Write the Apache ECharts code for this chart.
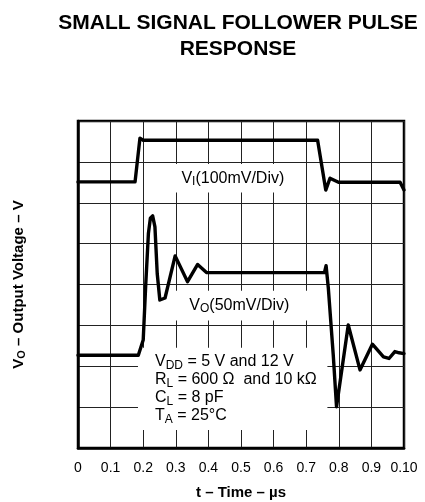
<!DOCTYPE html>
<html>
<head>
<meta charset="utf-8">
<script src="https://cdn.jsdelivr.net/npm/echarts@6/dist/echarts.min.js"></script>
<style>
  html, body { margin: 0; padding: 0; background: #fff; }
  #chart { width: 425px; height: 502px; }
</style>
</head>
<body>
<div id="chart"></div>
<script>
// time axis ticks (µs) — last label printed as "0.10" in the original sheet
const xTickLabels = ["0", "0.1", "0.2", "0.3", "0.4", "0.5", "0.6", "0.7", "0.8", "0.9", "0.10"];

// input pulse V_I, in screen divisions (0 = bottom, 8 = top)
const viTime = [0, 0.175, 0.19, 0.2, 0.735, 0.74, 0.760, 0.773, 0.799, 0.988, 1.0];
const viLevel = [6.51, 6.51, 7.58, 7.53, 7.53, 7.51, 6.31, 6.60, 6.50, 6.50, 6.31];

// output V_O, in screen divisions
const voTime = [0, 0.185, 0.19, 0.2, 0.208, 0.216, 0.222, 0.229, 0.236, 0.243, 0.251,
  0.267, 0.298, 0.336, 0.367, 0.395, 0.756, 0.761, 0.768, 0.783, 0.793,
  0.829, 0.865, 0.903, 0.937, 0.954, 0.972, 0.985, 1.0];
const voLevel = [2.27, 2.27, 2.23, 2.64, 4.03, 5.25, 5.62, 5.68, 5.41, 4.27, 3.62,
  3.67, 4.70, 4.07, 4.49, 4.29, 4.29, 4.46, 3.90, 2.27, 1.01,
  3.01, 1.91, 2.54, 2.23, 2.19, 2.36, 2.33, 2.31];

const toPairs = (xs, ys) => xs.map((x, i) => [x, ys[i]]);

const FONT = "Liberation Sans";
const sub = { fontFamily: FONT, fontSize: 12, color: "#000", lineHeight: 18, padding: [7, 0, 0, 0] };
const norm = { fontFamily: FONT, fontSize: 16, color: "#000", lineHeight: 18 };

let chart = echarts.init(document.getElementById("chart"));

chart.setOption({
  animation: false,
  backgroundColor: "#fff",
  title: {
    text: "SMALL SIGNAL FOLLOWER PULSE\nRESPONSE",
    left: 233,
    top: 5,
    textAlign: "center",
    textStyle: {
      fontFamily: FONT,
      fontWeight: "bold",
      fontSize: 21,
      lineHeight: 26,
      color: "#000",
    },
  },
  grid: {
    left: 78,
    right: 21,
    top: 121,
    bottom: 54,
    show: true,
    borderColor: "#000",
    borderWidth: 2.5,
    outerBoundsMode: "none",
  },
  xAxis: {
    type: "value",
    min: 0,
    max: 1,
    interval: 0.1,
    name: "t – Time – µs",
    nameLocation: "middle",
    nameGap: 37,
    nameMoveOverlap: false,
    nameTextStyle: { fontFamily: FONT, fontWeight: "bold", fontSize: 15, color: "#000" },
    axisLine: { show: true, lineStyle: { color: "#000", width: 2.5 } },
    axisTick: { show: false },
    axisLabel: {
      margin: 13,
      hideOverlap: false,
      showMinLabel: true,
      showMaxLabel: true,
      fontFamily: FONT,
      fontSize: 14,
      color: "#000",
      formatter: (v) => xTickLabels[Math.round(v * 10)],
    },
    splitLine: { show: true, lineStyle: { color: "#222", width: 1 } },
  },
  yAxis: {
    type: "value",
    min: 0,
    max: 8,
    interval: 1,
    name: "{n|V}{s|O}{n| – Output Voltage – V}",
    nameLocation: "middle",
    nameRotate: 90,
    nameGap: 50,
    nameMoveOverlap: false,
    nameTextStyle: {
      rich: {
        n: { fontFamily: FONT, fontWeight: "bold", fontSize: 15, color: "#000", lineHeight: 18 },
        s: { fontFamily: FONT, fontWeight: "bold", fontSize: 11, color: "#000", lineHeight: 18, padding: [6, 0, 0, 0] },
      },
    },
    axisLine: { show: true, lineStyle: { color: "#000", width: 2.5 } },
    axisTick: { show: false },
    axisLabel: { show: false },
    splitLine: { show: true, lineStyle: { color: "#222", width: 1 } },
  },
  series: [
    {
      name: "VI",
      type: "line",
      data: toPairs(viTime, viLevel),
      showSymbol: false,
      silent: true,
      z: 5,
      lineStyle: { color: "#000", width: 3.4, join: "round", cap: "round" },
      markArea: {
        silent: true,
        itemStyle: { color: "#fff" },
        label: { show: true, position: "inside", color: "#000" },
        data: [
          [
            { xAxis: 0.27, yAxis: 6.25, label: { formatter: "{n|V}{s|I}{n|(100mV/Div)}", rich: { n: norm, s: sub } } },
            { xAxis: 0.68, yAxis: 6.95 },
          ],
          [
            { xAxis: 0.28, yAxis: 3.12, label: { formatter: "{n|V}{s|O}{n|(50mV/Div)}", rich: { n: norm, s: sub } } },
            { xAxis: 0.71, yAxis: 3.85 },
          ],
          [
            {
              xAxis: 0.184,
              yAxis: 0.44,
              label: {
                position: "insideLeft",
                distance: 17,
                formatter: [
                  "{n|V}{s|DD}{n| = 5 V and 12 V}",
                  "{n|R}{s|L}{n| = 600 Ω  and 10 kΩ}",
                  "{n|C}{s|L}{n| = 8 pF}",
                  "{n|T}{s|A}{n| = 25°C}",
                ].join("\n"),
                rich: { n: norm, s: sub },
              },
            },
            { xAxis: 0.765, yAxis: 2.45 },
          ],
        ],
      },
    },
    {
      name: "VO",
      type: "line",
      data: toPairs(voTime, voLevel),
      showSymbol: false,
      silent: true,
      z: 6,
      lineStyle: { color: "#000", width: 3.4, join: "round", cap: "round" },
    },
  ],
});
</script>
</body>
</html>
